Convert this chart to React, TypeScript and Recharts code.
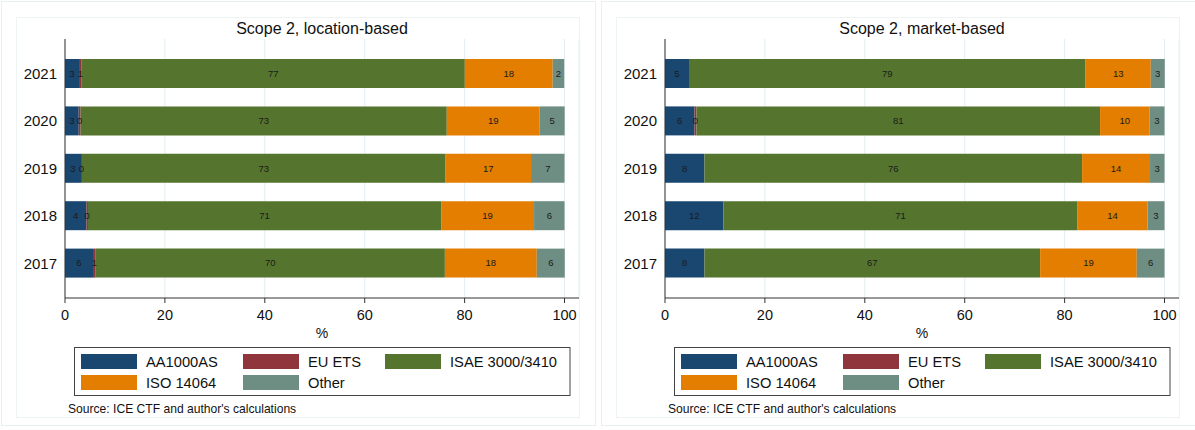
import React from 'react';
import { BarChart, Bar, XAxis, YAxis, CartesianGrid, LabelList } from 'recharts';

// years, top to bottom as drawn
const years = ['2021', '2020', '2019', '2018', '2017'];

const seriesNames = ['AA1000AS', 'EU ETS', 'ISAE 3000/3410', 'ISO 14064', 'Other'];
const seriesKeys = ['aa', 'eu', 'isae', 'iso', 'other'];
const seriesColors = ['#1a476f', '#90353b', '#55752f', '#e37e00', '#6e8e84'];

// Scope 2, location-based (% of firms)
const locAA = [2.8, 2.75, 3.2, 4.3, 5.6];
const locEU = [0.54, 0.38, 0.2, 0.3, 0.55];
const locISAE = [76.7, 73.3, 72.8, 70.7, 69.9];
const locISO = [17.6, 18.6, 17.1, 18.6, 18.4];
const locOther = [2.3, 5.0, 6.7, 6.1, 5.6];

// Scope 2, market-based (% of firms)
const mktAA = [4.8, 5.9, 7.9, 11.7, 7.9];
const mktEU = [0, 0.4, 0, 0, 0];
const mktISAE = [79.4, 80.8, 75.6, 70.9, 67.2];
const mktISO = [13.05, 9.9, 13.6, 14.0, 19.35];
const mktOther = [2.8, 3.0, 2.9, 3.4, 5.55];

const xTicks = [0, 20, 40, 60, 80, 100];

const FONT = '"Liberation Sans", Arial, sans-serif';

function buildRows(cols: number[][]) {
  return years.map((year, i) => {
    const row: any = { year };
    seriesKeys.forEach((k, j) => {
      row[k] = cols[j][i];
    });
    return row;
  });
}

const locationData = buildRows([locAA, locEU, locISAE, locISO, locOther]);
const marketData = buildRows([mktAA, mktEU, mktISAE, mktISO, mktOther]);

function fmt(v: any) {
  if (v === null || v === undefined || v === 0) return '';
  return String(Math.round(v));
}

function Legend() {
  const cols = [81, 243, 385];
  const rows = [354, 375];
  return (
    <g>
      <rect x={74.5} y={347.5} width={495.5} height={48} fill="#fff" stroke="#444" strokeWidth={1} />
      {seriesNames.map((name, i) => {
        const cx = cols[i % 3];
        const ry = rows[Math.floor(i / 3)];
        return (
          <g key={name}>
            <rect x={cx} y={ry} width={56} height={15} fill={seriesColors[i]} />
            <text x={cx + 65} y={ry + 7.5} dominantBaseline="central" fontSize={14.7} fill="#111" fontFamily={FONT}>
              {name}
            </text>
          </g>
        );
      })}
    </g>
  );
}

function Panel({ title, data, left }: { title: string; data: any[]; left: number }) {
  return (
    <div style={{ position: 'absolute', left, top: 0, width: 597, height: 430 }}>
      <svg width={597} height={430} style={{ position: 'absolute', left: 0, top: 0 }}>
        <rect x={1.5} y={1.5} width={594} height={424} fill="#fff" stroke="#e8eff0" />
        <rect x={16.5} y={17.5} width={563} height={400} fill="#fff" stroke="#eef4f4" />
        <text x={322} y={28} textAnchor="middle" dominantBaseline="central" fontSize={16} fill="#111" fontFamily={FONT}>
          {title}
        </text>
        <text x={322} y={333} textAnchor="middle" dominantBaseline="central" fontSize={14} fill="#111" fontFamily={FONT}>
          %
        </text>
        <Legend />
        <text x={68} y={409} dominantBaseline="central" fontSize={12.1} fill="#111" fontFamily={FONT}>
          Source: ICE CTF and author's calculations
        </text>
      </svg>
      <div style={{ position: 'absolute', left: 0, top: 0 }}>
        <BarChart
          layout="vertical"
          width={597}
          height={340}
          data={data}
          margin={{ top: 39, right: 18, bottom: 2, left: 0 }}
          barSize={29}
        >
          <CartesianGrid horizontal={false} stroke="#e3edf0" />
          <XAxis
            type="number"
            domain={[0, 102.9]}
            ticks={xTicks}
            tickSize={5}
            tickMargin={7}
            height={40}
            stroke="#333"
            tick={{ fontSize: 14.5, fill: '#111', fontFamily: FONT }}
          />
          <YAxis
            type="category"
            dataKey="year"
            width={65}
            tickLine={false}
            tickSize={0}
            tickMargin={8}
            padding={{ top: 11, bottom: 11 }}
            stroke="#333"
            tick={{ fontSize: 15, fill: '#111', fontFamily: FONT }}
          />
          {seriesKeys.map((k, i) => (
            <Bar key={k} dataKey={k} stackId="a" fill={seriesColors[i]} isAnimationActive={false}>
              <LabelList
                dataKey={k}
                position="center"
                formatter={fmt}
                fontSize={9.5}
                fill="#1a1a1a"
                fontFamily={FONT}
              />
            </Bar>
          ))}
        </BarChart>
      </div>
    </div>
  );
}

export default function App() {
  return (
    <div style={{ position: 'absolute', left: 0, top: 0, width: 1195, height: 430, background: '#fff' }}>
      <Panel title="Scope 2, location-based" data={locationData} left={0} />
      <Panel title="Scope 2, market-based" data={marketData} left={600} />
    </div>
  );
}
